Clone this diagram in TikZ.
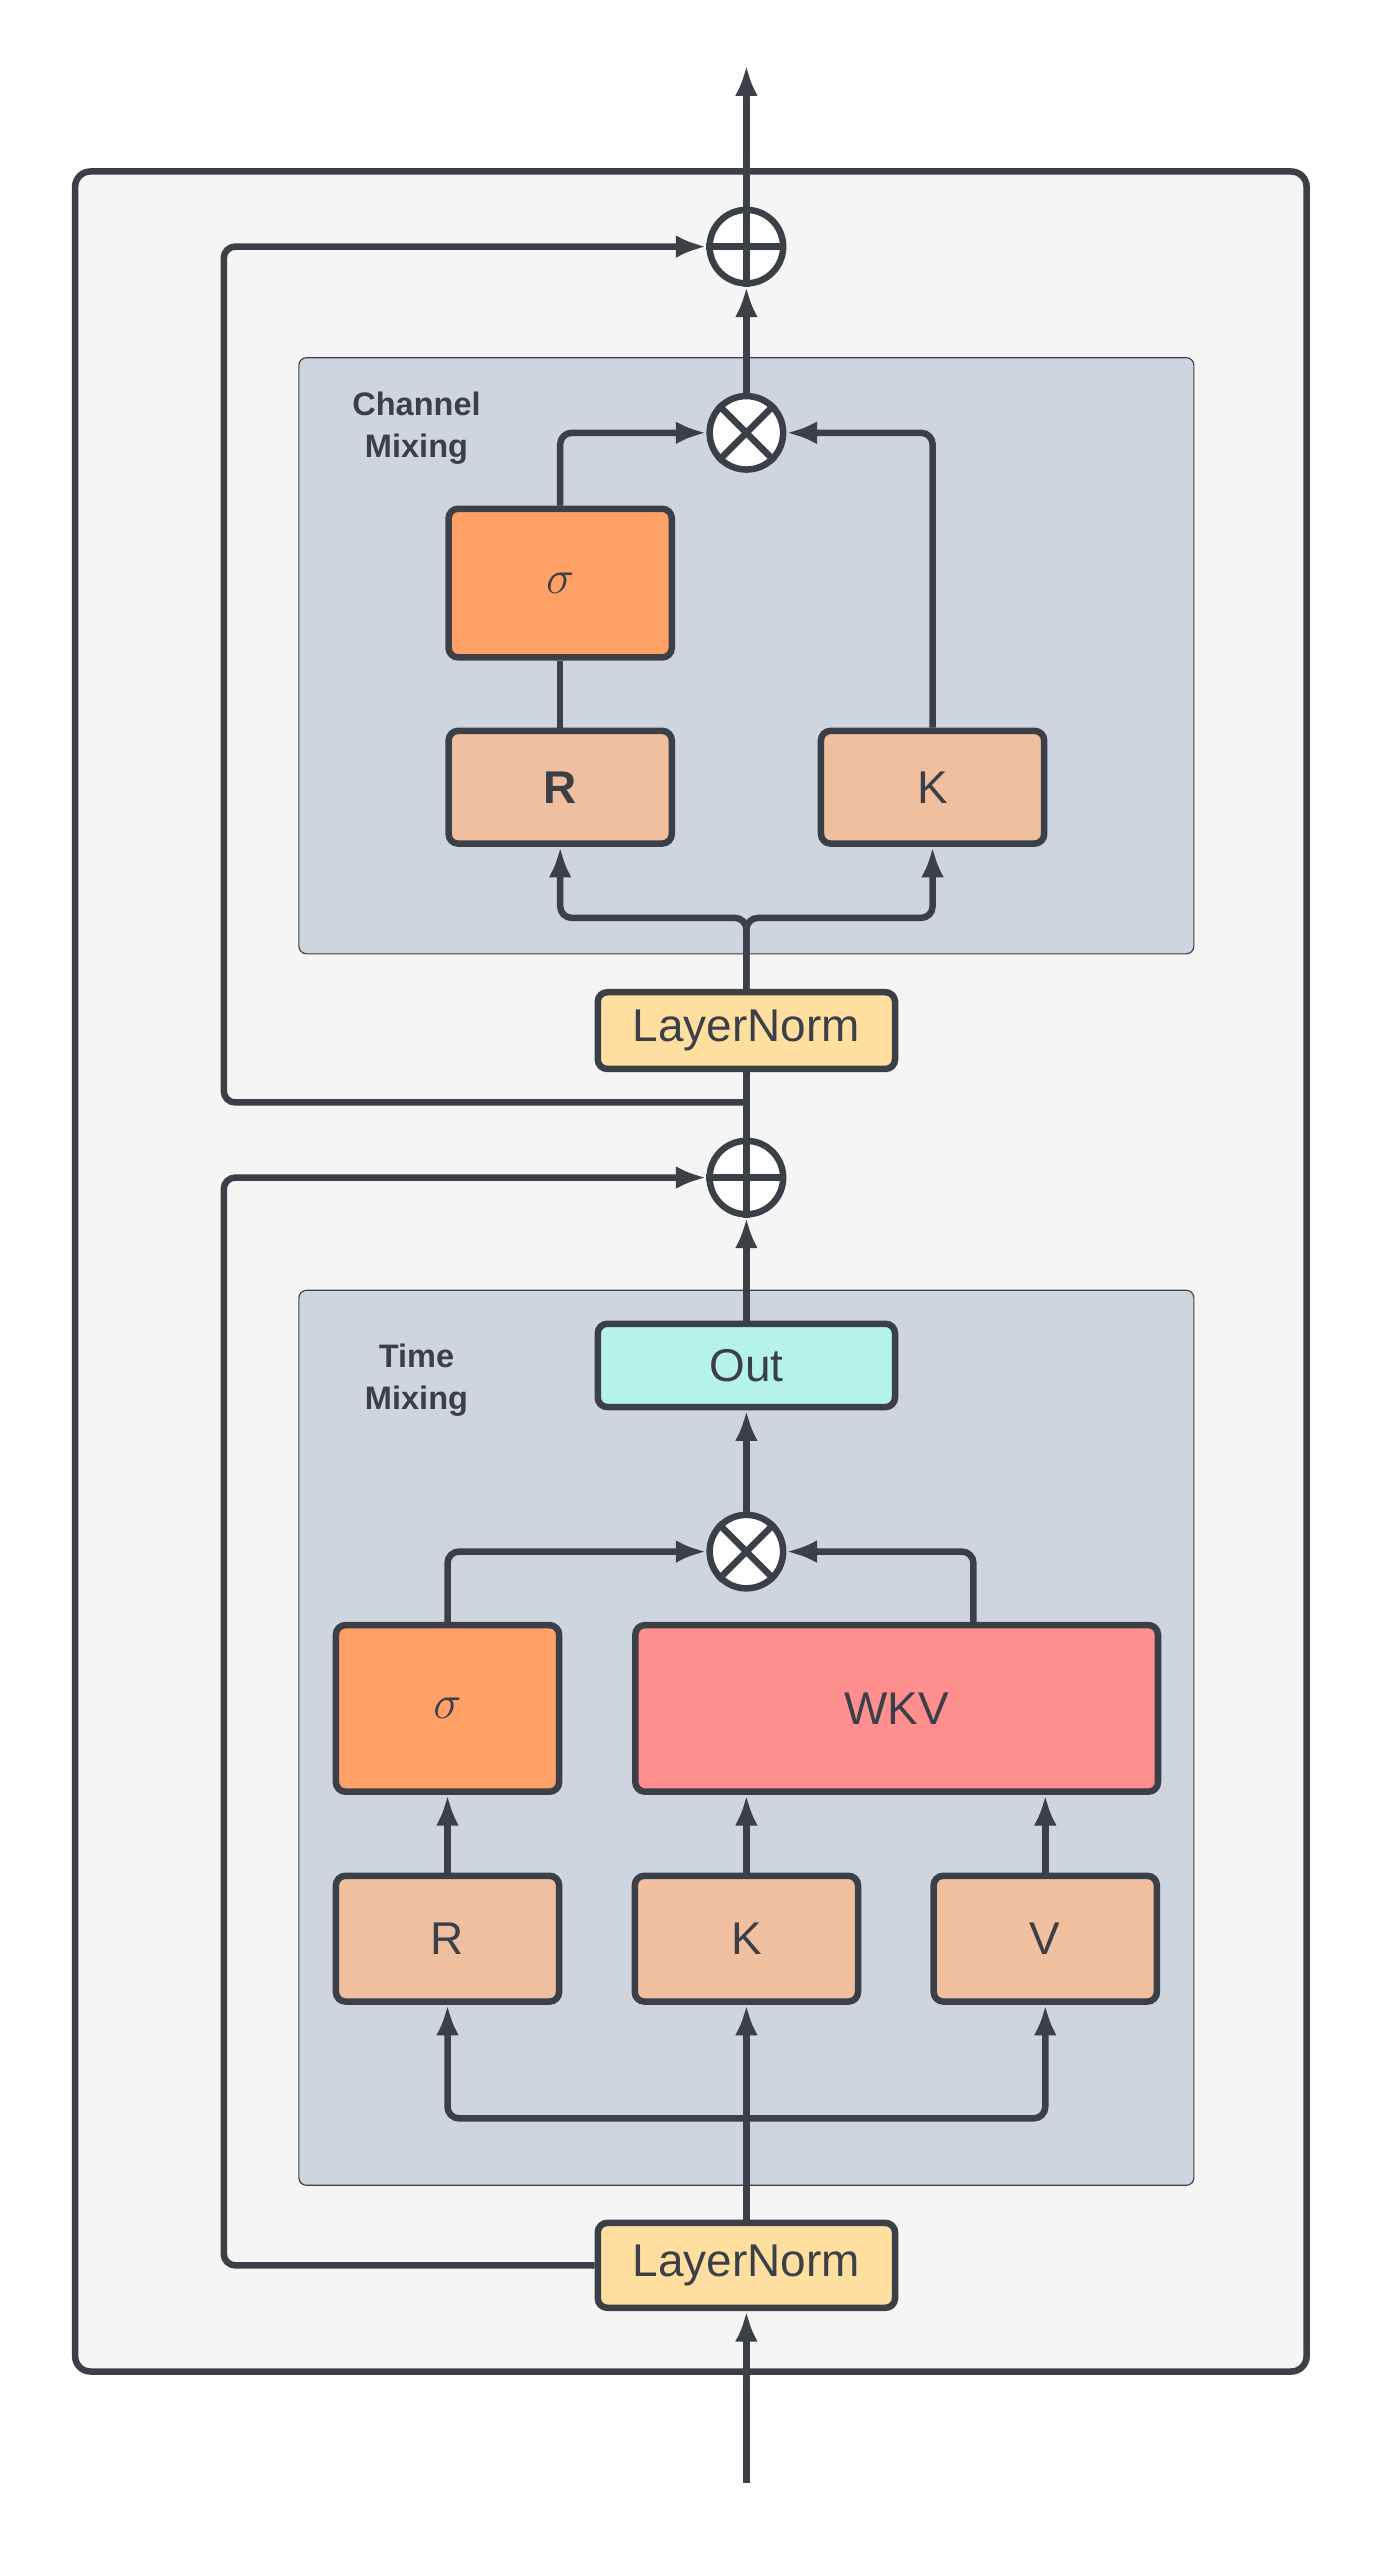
\documentclass[tikz,border=0pt]{standalone}
\usepackage{fontspec}
\setmainfont{Liberation Sans}
\usetikzlibrary{arrows.meta}
\definecolor{ink}{HTML}{3B4048}
\definecolor{outerbg}{HTML}{F5F5F5}
\definecolor{mixbg}{HTML}{CFD5DE}
\definecolor{sigfill}{HTML}{FFA066}
\definecolor{projfill}{HTML}{F0BFA0}
\definecolor{normfill}{HTML}{FFDF9F}
\definecolor{outfill}{HTML}{B5F2EA}
\definecolor{wkvfill}{HTML}{FF8F8F}
\tikzset{
  blk/.style={draw=ink, line width=3.4pt, rounded corners=5pt, text=ink, font=\fontsize{24}{28}\selectfont, inner sep=0pt},
  op/.style={circle, draw=ink, fill=white, line width=3.4pt, minimum size=1.35cm, inner sep=0pt},
  wire/.style={draw=ink, line width=3.4pt, rounded corners=6pt},
  flow/.style={wire, -{Latex[length=16pt,width=12pt]}},
}
\newcommand{\plusop}[2]{\node[op] (#1) at #2 {};
  \draw[ink, line width=3.4pt] (#1.north) -- (#1.south) (#1.west) -- (#1.east);}
\newcommand{\timesop}[2]{\node[op] (#1) at #2 {};
  \draw[ink, line width=3.4pt] (#1.north west) -- (#1.south east) (#1.north east) -- (#1.south west);}
\begin{document}
\begin{tikzpicture}[x=0.03cm, y=-0.03cm]
  \useasboundingbox (0,0) rectangle (850,1576);
  % frames
  \draw[ink, line width=3.4pt, fill=outerbg, rounded corners=8pt] (46,105) rectangle (800,1452);
  \draw[ink, line width=0.6pt, fill=mixbg, rounded corners=4pt] (183,219) rectangle (731,584);
  \draw[ink, line width=0.6pt, fill=mixbg, rounded corners=4pt] (183,790) rectangle (731,1338);
  \node[text=ink, font=\bfseries\fontsize{17}{22}\selectfont, align=center] (cmlab) at (255,262) {Channel\\Mixing};
  \node[text=ink, font=\bfseries\fontsize{17}{22}\selectfont, align=center] (tmlab) at (255,845) {Time\\Mixing};

  % channel mixing
  \plusop{addtop}{(457,151)}
  \timesop{mulcm}{(457,265)}
  \node[blk, fill=sigfill, minimum width=4.1cm, minimum height=2.73cm, font=\fontsize{30}{34}\selectfont] (sigcm) at (343,357) {$\sigma$};
  \node[blk, fill=projfill, minimum width=4.1cm, minimum height=2.07cm, font=\bfseries\fontsize{24}{28}\selectfont] (rcm) at (343,482) {R};
  \node[blk, fill=projfill, minimum width=4.1cm, minimum height=2.07cm] (kcm) at (571,482) {K};
  \node[blk, fill=normfill, minimum width=5.46cm, minimum height=1.41cm] (lncm) at (457,631) {LayerNorm};

  % time mixing
  \plusop{addmid}{(457,721)}
  \node[blk, fill=outfill, minimum width=5.46cm, minimum height=1.53cm] (out) at (457,836) {Out};
  \timesop{multm}{(457,950)}
  \node[blk, fill=sigfill, minimum width=4.1cm, minimum height=3.06cm, font=\fontsize{30}{34}\selectfont] (sigtm) at (274,1046) {$\sigma$};
  \node[blk, fill=wkvfill, minimum width=9.6cm, minimum height=3.06cm] (wkv) at (549,1046) {WKV};
  \node[blk, fill=projfill, minimum width=4.1cm, minimum height=2.31cm] (rtm) at (274,1187) {R};
  \node[blk, fill=projfill, minimum width=4.1cm, minimum height=2.31cm] (ktm) at (457,1187) {K};
  \node[blk, fill=projfill, minimum width=4.1cm, minimum height=2.31cm] (vtm) at (640,1187) {V};
  \node[blk, fill=normfill, minimum width=5.46cm, minimum height=1.56cm] (lntm) at (457,1387) {LayerNorm};

  \coordinate (input) at (457,1520);
  \coordinate (output) at (457,40);

  % connectors
  \draw[flow] (input) -- (lntm);
  \draw[flow] (lntm) -- (ktm);
  \draw[flow] (457,1297) -| (rtm);
  \draw[flow] (457,1297) -| (vtm);
  \draw[flow] (rtm) -- (sigtm);
  \draw[flow] (ktm) -- (wkv.south -| ktm);
  \draw[flow] (vtm) -- (wkv.south -| vtm);
  \draw[flow] (sigtm.north) |- (multm.west);
  \draw[flow] (wkv.north -| 596,0) |- (multm.east);
  \draw[flow] (multm) -- (out);
  \draw[flow] (out) -- (addmid);
  \draw[flow] (lntm.west) -- (137,1387) |- (addmid.west);
  \draw[wire] (addmid) -- (lncm);
  \draw[flow] (lncm.north) |- (343,562) -- (rcm.south);
  \draw[flow] (lncm.north) |- (571,562) -- (kcm.south);
  \draw[wire] (rcm) -- (sigcm);
  \draw[flow] (sigcm.north) |- (mulcm.west);
  \draw[flow] (kcm.north) |- (mulcm.east);
  \draw[flow] (mulcm) -- (addtop);
  \draw[flow] (457,675) -- (137,675) |- (addtop.west);
  \draw[flow] (addtop) -- (output);
\end{tikzpicture}
\end{document}
